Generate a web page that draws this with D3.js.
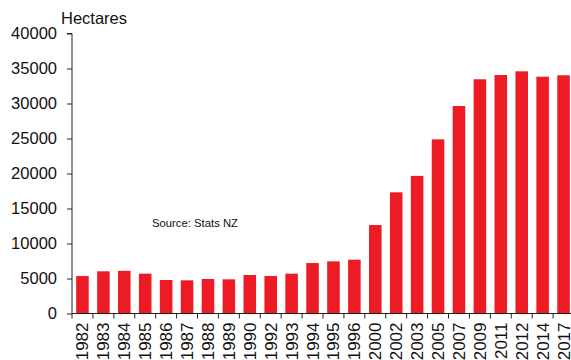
<!DOCTYPE html>
<html>
<head>
<meta charset="utf-8">
<script src="https://cdn.jsdelivr.net/npm/d3@7"></script>
<style>
  body { margin: 0; background: #fff; }
  text { font-family: "Liberation Sans", Arial, sans-serif; fill: #111; }
</style>
</head>
<body>
<div id="chart"></div>
<script>
var years = ["1982", "1983", "1984", "1985", "1986", "1987", "1988", "1989", "1990", "1992",
             "1993", "1994", "1995", "1996", "2000", "2002", "2003", "2005", "2007", "2009",
             "2011", "2012", "2014", "2017"];
var hectares = [5350, 6030, 6100, 5690, 4790, 4740, 4930, 4880, 5500, 5360,
                5690, 7210, 7450, 7690, 12640, 17310, 19660, 24880, 29640, 33460,
                34070, 34600, 33830, 34030];
var yTicks = [0, 5000, 10000, 15000, 20000, 25000, 30000, 35000, 40000];

var width = 571, height = 360;
// note: "top" is taken by window.top, so use plot* names
var plotLeft = 72, plotRight = 574, plotTop = 33.5, plotBottom = 313.5;

var svg = d3.select('#chart')
    .append('svg')
    .attr('width', width)
    .attr('height', height);

var x = d3.scaleBand()
    .domain(years)
    .range([plotLeft, plotRight])
    .paddingInner(0.4)
    .paddingOuter(0.2);

var y = d3.scaleLinear()
    .domain([0, 40000])
    .range([plotBottom, plotTop]);

// bars
svg.selectAll('rect.bar')
    .data(years)
    .enter()
    .append('rect')
    .attr('class', 'bar')
    .attr('x', function(d){ return x(d); })
    .attr('y', function(d, i){ return y(hectares[i]); })
    .attr('width', x.bandwidth())
    .attr('height', function(d, i){ return y(0) - y(hectares[i]); })
    .attr('fill', '#ED1C24');

// y axis
var yAxis = svg.append('g')
    .attr('transform', 'translate(' + plotLeft + ',0)')
    .call(d3.axisLeft(y).tickValues(yTicks).tickFormat(d3.format('d')).tickSize(5).tickPadding(10));
yAxis.select('.domain').attr('stroke', '#222').attr('d', 'M-5,' + plotTop + 'H0V' + plotBottom);
yAxis.selectAll('.tick line').attr('stroke', '#222');
yAxis.selectAll('.tick text')
    .style('font-size', '16.5px')
    .style('font-family', '"Liberation Sans", Arial, sans-serif')
    .attr('fill', '#111');

// x axis: line plus ticks on the band edges
var xAxis = svg.append('g');
xAxis.append('line')
    .attr('x1', plotLeft).attr('x2', plotRight)
    .attr('y1', plotBottom).attr('y2', plotBottom)
    .attr('stroke', '#222');
xAxis.selectAll('line.tick')
    .data(d3.range(years.length + 1))
    .enter()
    .append('line')
    .attr('class', 'tick')
    .attr('x1', function(i){ return plotLeft + i * x.step(); })
    .attr('x2', function(i){ return plotLeft + i * x.step(); })
    .attr('y1', plotBottom)
    .attr('y2', plotBottom + 5)
    .attr('stroke', '#222');
xAxis.selectAll('text')
    .data(years)
    .enter()
    .append('text')
    .attr('transform', function(d){
        return 'translate(' + (x(d) + x.bandwidth() / 2 + 6) + ',' + (plotBottom + 9) + ') rotate(-90)';
    })
    .attr('text-anchor', 'end')
    .style('font-size', '17px')
    .text(function(d){ return d; });

// titles
svg.append('text')
    .attr('x', 61)
    .attr('y', 24)
    .style('font-size', '16.5px')
    .text('Hectares');

svg.append('text')
    .attr('x', 152)
    .attr('y', 227)
    .style('font-size', '11.3px')
    .text('Source: Stats NZ');
</script>
</body>
</html>
